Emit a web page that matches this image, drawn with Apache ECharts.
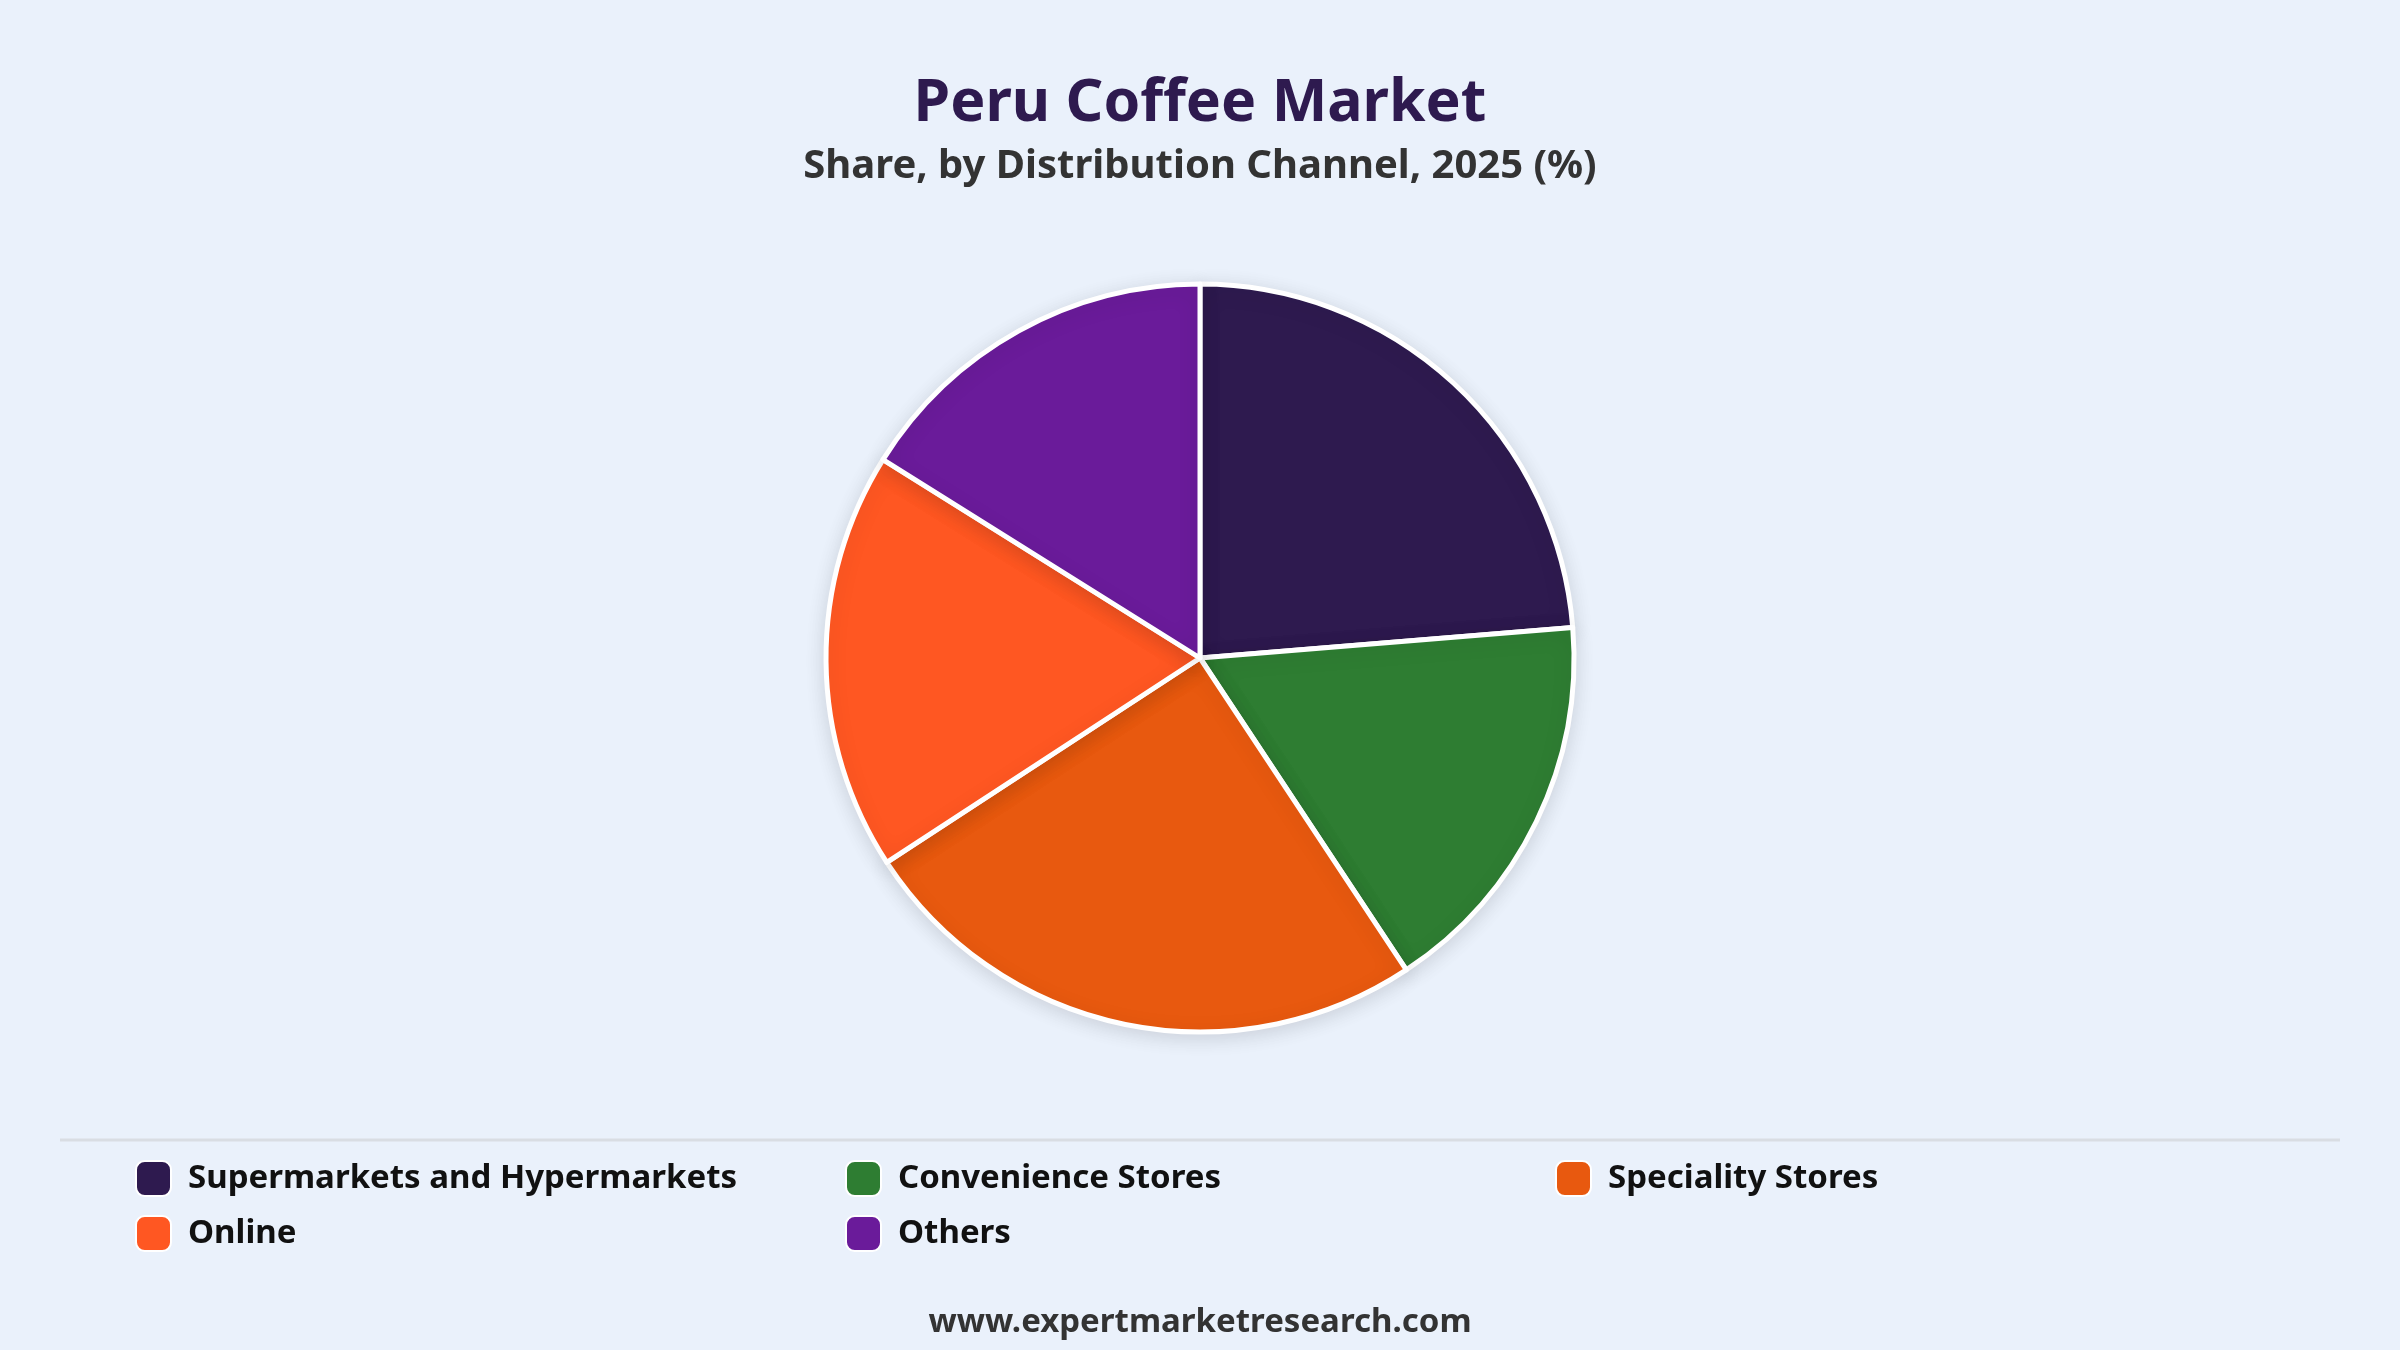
<!DOCTYPE html>
<html lang="en" style="height: 100%">
<head>
  <meta charset="utf-8">
</head>
<body style="height: 100%; margin: 0; background: #eaf1fb">
  <div id="container" style="height: 100%"></div>

  <script src="https://cdn.jsdelivr.net/npm/echarts@6/dist/echarts.min.js"></script>

  <script type="text/javascript">
    var dom = document.getElementById('container');
    var myChart = echarts.init(dom, null, {
      renderer: 'canvas',
      useDirtyRect: false
    });

    // data
    const channels = [
      'Supermarkets and Hypermarkets',
      'Convenience Stores',
      'Speciality Stores',
      'Online',
      'Others'
    ];
    const shares = [23.7, 17.0, 25.1, 18.1, 16.1];
    const colors = ['#2e1a4f', '#2e7d32', '#e8590f', '#ff5722', '#6a1b9a'];

    const font = '"Noto Sans", sans-serif';

    // legend columns, as laid out in the picture
    const legendCols = [
      [channels[0], channels[3]],
      [channels[1], channels[4]],
      [channels[2]]
    ];
    const colLeft = [135, 845, 1555];

    var option = {
      backgroundColor: '#eaf1fb',
      color: colors,
      title: [
        {
          text: 'Peru Coffee Market',
          left: 'center',
          top: 70,
          textStyle: {
            fontFamily: font,
            fontSize: 59,
            fontWeight: 'bold',
            color: '#2e1a4f'
          }
        },
        {
          text: 'Share, by Distribution Channel, 2025 (%)',
          left: 'center',
          top: 142,
          textStyle: {
            fontFamily: font,
            fontSize: 40,
            fontWeight: 'bold',
            color: '#333333'
          }
        },
        {
          text: 'www.expertmarketresearch.com',
          left: 'center',
          top: 1301,
          textStyle: {
            fontFamily: font,
            fontSize: 33,
            fontWeight: 'bold',
            color: '#333333'
          }
        }
      ],
      legend: legendCols.map(function (names, i) {
        return {
          data: names,
          orient: 'vertical',
          left: colLeft[i],
          top: 1160,
          padding: 0,
          itemWidth: 35,
          itemHeight: 35,
          itemGap: 18,
          icon: 'roundRect',
          selectedMode: false,
          textStyle: {
            fontFamily: font,
            fontSize: 33,
            fontWeight: 'bold',
            color: '#111111',
            padding: [0, 0, 0, 12]
          }
        };
      }),
      graphic: [
        {
          type: 'line',
          shape: { x1: 60, y1: 1140, x2: 2340, y2: 1140 },
          style: { stroke: '#d9dde3', lineWidth: 3 }
        }
      ],
      series: [
        {
          type: 'pie',
          center: [1200, 658],
          radius: 374,
          startAngle: 90,
          clockwise: true,
          label: { show: false },
          labelLine: { show: false },
          emphasis: { scale: false },
          itemStyle: {
            borderColor: '#ffffff',
            borderWidth: 5,
            shadowBlur: 20,
            shadowColor: 'rgba(0,0,0,0.12)',
            shadowOffsetY: 4
          },
          data: channels.map(function (name, i) {
            return { name: name, value: shares[i] };
          })
        }
      ]
    };

    myChart.setOption(option);

    window.addEventListener('resize', myChart.resize);
  </script>
</body>
</html>
